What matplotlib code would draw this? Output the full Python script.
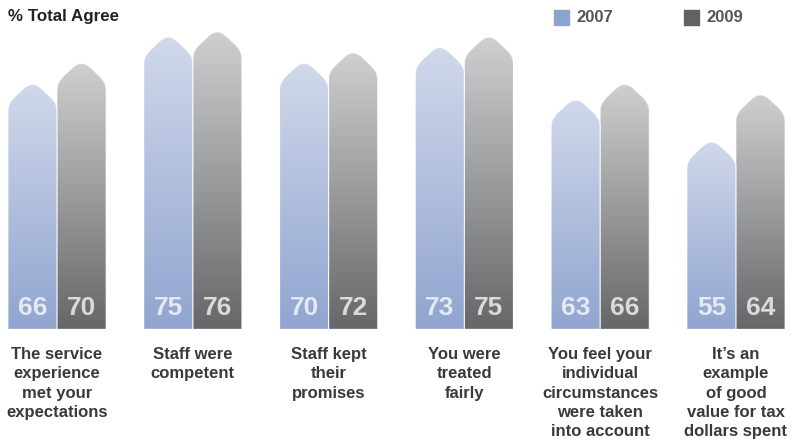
import numpy as np
import matplotlib.pyplot as plt
from matplotlib.path import Path
from matplotlib.patches import PathPatch, Rectangle
from matplotlib.colors import LinearSegmentedColormap

plt.rcParams['font.family'] = ['Liberation Sans', 'DejaVu Sans']

categories = [
    "The service\nexperience\nmet your\nexpectations",
    "Staff were\ncompetent",
    "Staff kept\ntheir\npromises",
    "You were\ntreated\nfairly",
    "You feel your\nindividual\ncircumstances\nwere taken\ninto account",
    "It\u2019s an\nexample\nof good\nvalue for tax\ndollars spent",
]
years = ["2007", "2009"]
agree_2007 = [66, 75, 70, 73, 63, 55]
agree_2009 = [70, 76, 72, 75, 66, 64]

# gradient ends (top, bottom) and legend swatch colour per series
grad_2007 = ("#d2d9eb", "#90a5d0")
grad_2009 = ("#d0d1d3", "#676769")
swatch = ["#8fa3cf", "#626262"]

W, H = 793, 441
fig = plt.figure(figsize=(W / 100, H / 100), dpi=100)

base = 18.5
top = 81.3
ax_h = 329.3
ax = fig.add_axes([0, 1 - ax_h / H, 1, ax_h / H])
ax.set_xlim(-0.42, 5.42)
ax.set_ylim(base, top)
ax.axis("off")

# pixel -> data scale factors
sx = (ax.get_xlim()[1] - ax.get_xlim()[0]) / W
sy = (top - base) / ax_h

bar_w = 49 * sx
roof = 23 * sy
rd_apex = 9   # rounding at the apex, px along the roof
rd_sh = 7     # rounding at the shoulders, px


def house_path(x0, w, v):
    """Bar with a pointed, rounded roof; apex at value v."""
    xc = x0 + w / 2
    sh = v - roof
    fa = rd_apex * sx / (w / 2)
    fs = rd_sh * sx / (w / 2)
    verts = [
        (x0, base),
        (x0, sh - rd_sh * sy),
        (x0, sh),
        (x0 + w / 2 * fs, sh + roof * fs),
        (xc - w / 2 * fa, v - roof * fa),
        (xc, v),
        (xc + w / 2 * fa, v - roof * fa),
        (x0 + w - w / 2 * fs, sh + roof * fs),
        (x0 + w, sh),
        (x0 + w, sh - rd_sh * sy),
        (x0 + w, base),
        (x0, base),
    ]
    codes = [Path.MOVETO, Path.LINETO, Path.CURVE3, Path.CURVE3,
             Path.LINETO, Path.CURVE3, Path.CURVE3,
             Path.LINETO, Path.CURVE3, Path.CURVE3,
             Path.LINETO, Path.CLOSEPOLY]
    return Path(verts, codes)


grad = np.linspace(0, 1, 256).reshape(-1, 1)
for k, (vals, (c_top, c_bot)) in enumerate([(agree_2007, grad_2007),
                                            (agree_2009, grad_2009)]):
    cmap = LinearSegmentedColormap.from_list(f"g{k}", [c_bot, c_top])
    for i, v in enumerate(vals):
        x0 = i - bar_w + k * bar_w
        patch = PathPatch(house_path(x0, bar_w, v), facecolor="none",
                          edgecolor="none")
        ax.add_patch(patch)
        im = ax.imshow(grad, cmap=cmap, origin="lower", aspect="auto",
                       extent=[x0, x0 + bar_w, base, v], zorder=2)
        im.set_clip_path(patch)
        ax.add_patch(PathPatch(house_path(x0, bar_w, v), facecolor="none",
                               edgecolor="white", lw=0.8, alpha=0.6, zorder=3))
        ax.text(x0 + bar_w / 2, base + 21.5 * sy, str(v), ha="center",
                va="center", fontsize=19, fontweight="bold",
                color="white", alpha=0.75, zorder=4)

for i, c in enumerate(categories):
    ax.text(i, -0.054, c, transform=ax.get_xaxis_transform(), ha="center",
            va="top", fontsize=12, fontweight="bold", color="#3a3a3a",
            linespacing=1.36)

fig.text(8 / W, 1 - 17 / H, "% Total Agree", ha="left", va="center",
         fontsize=12.2, fontweight="bold", color="#222222")

for (lx, label, col) in [(554, years[0], swatch[0]), (684, years[1], swatch[1])]:
    fig.patches.append(Rectangle((lx / W, 1 - 25 / H), 15 / W, 15 / H,
                                 transform=fig.transFigure, color=col))
    fig.text((lx + 22) / W, 1 - 17.5 / H, label, ha="left", va="center",
             fontsize=12, fontweight="bold", color="#555555")

fig.savefig("out.png", dpi=100)
